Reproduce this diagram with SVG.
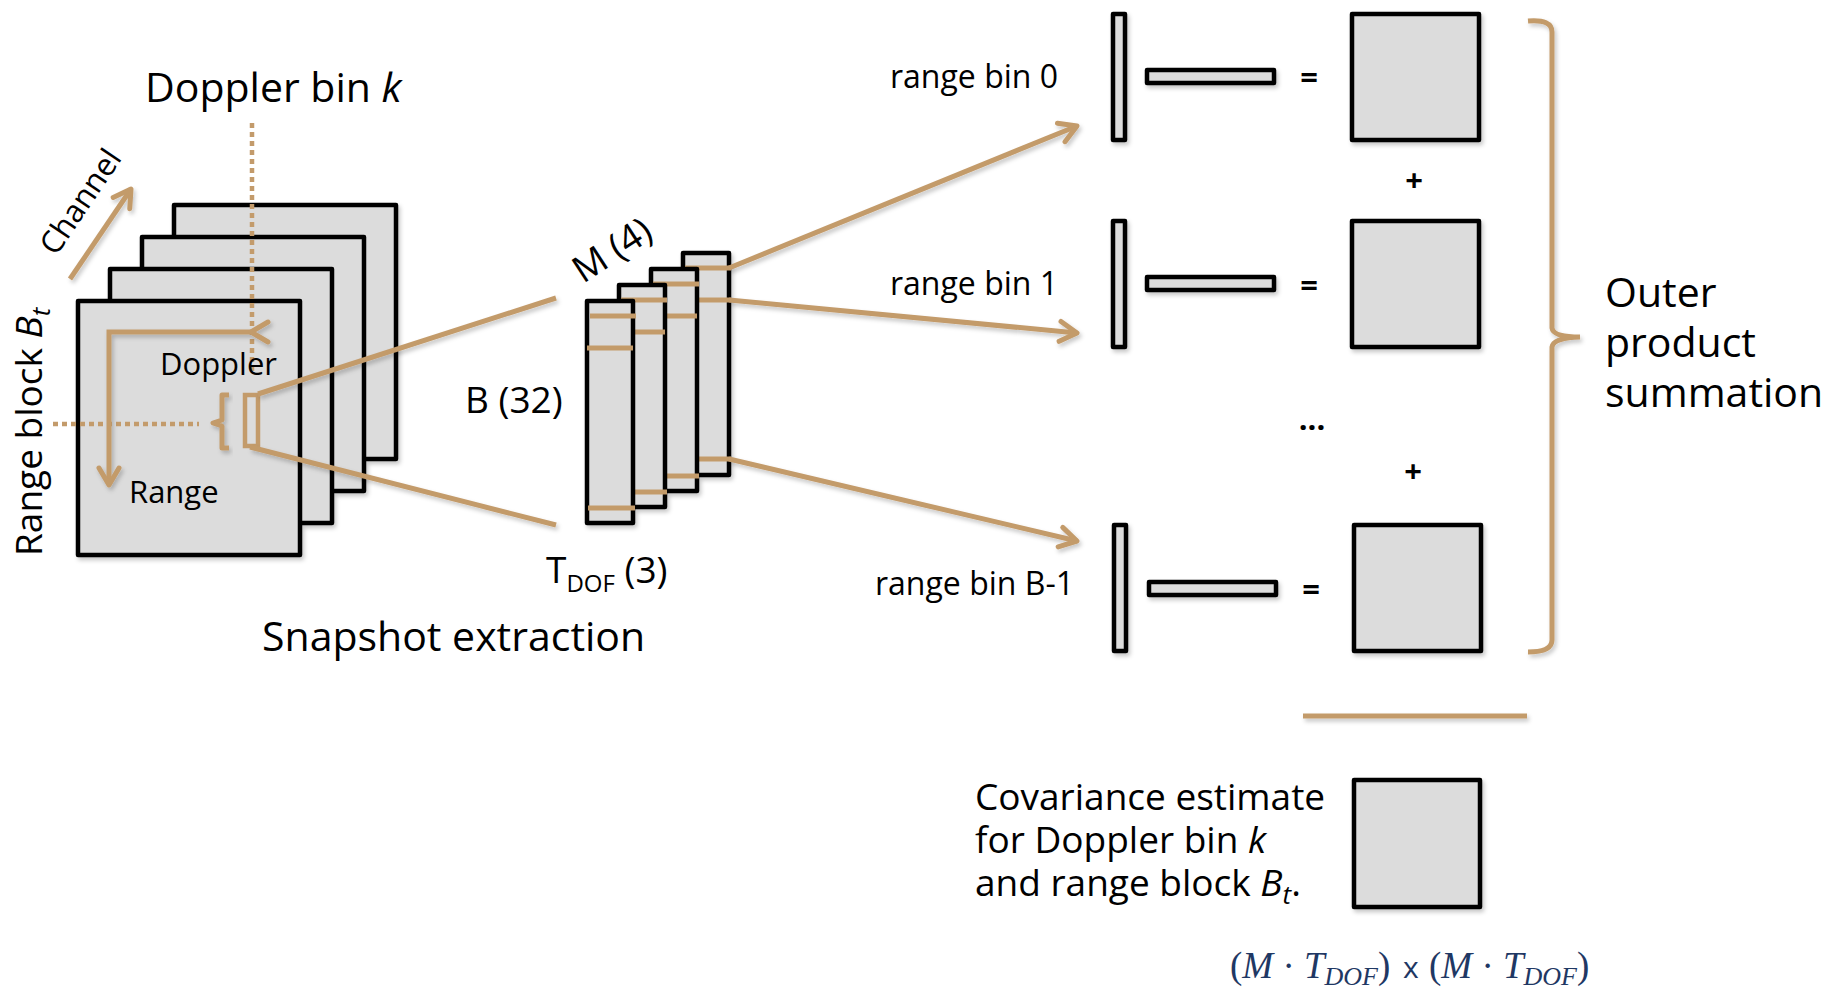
<svg xmlns="http://www.w3.org/2000/svg" width="1837" height="992" viewBox="0 0 1837 992">
<defs>
<style>
.txt{font-family:'Open Sans','Liberation Sans',sans-serif;fill:#000}
.box{fill:#dcdcdc;stroke:#000;stroke-width:4.5;stroke-linejoin:round}
.tan{fill:none;stroke:#c39b6b;stroke-width:5;stroke-linecap:butt}
.dot{fill:none;stroke:#c39b6b;stroke-width:4.5;stroke-dasharray:5 4}
.op{font-family:'Open Sans','Liberation Sans',sans-serif;font-weight:bold;font-size:31px;text-anchor:middle}
.math{font-family:'Liberation Serif','DejaVu Serif',serif;fill:#1f3864}
</style>
<filter id="sh" x="-20%" y="-20%" width="140%" height="140%"><feDropShadow dx="2" dy="3" stdDeviation="2" flood-color="#000" flood-opacity="0.22"/></filter>
<marker id="ah" markerUnits="userSpaceOnUse" markerWidth="40" markerHeight="40" viewBox="-25 -20 40 40" refX="0" refY="0" orient="auto" overflow="visible">
<path d="M-17,-10 L0,0 L-17,10" fill="none" stroke="#c39b6b" stroke-width="5" stroke-linecap="round" stroke-linejoin="round"/>
</marker>
</defs>
<rect width="1837" height="992" fill="#fff"/>

<!-- Data cube layers -->
<g id="cube" filter="url(#sh)">
<rect class="box" x="174" y="205" width="222" height="254"/>
<rect class="box" x="142" y="237" width="222" height="254"/>
<rect class="box" x="110" y="269" width="222" height="254"/>
<rect class="box" x="78" y="301" width="222" height="254"/>
</g>
<g id="cube-marks">
<line class="dot" x1="252" y1="123" x2="252" y2="374"/>
<line class="dot" x1="53" y1="424" x2="199" y2="424"/>
<path class="tan" filter="url(#sh)" d="M229,395 L222,395 L222,420 L213,423 L222,426 L222,448 L229,448" stroke-linejoin="round"/>
<rect x="245" y="395" width="13" height="51" fill="none" stroke="#c39b6b" stroke-width="4.5"/>
</g>
<g id="axis-arrows" filter="url(#sh)">
<path class="tan" d="M251,332 L109,332 L109,485" marker-start="url(#ah)" marker-end="url(#ah)"/>
<line class="tan" x1="70" y1="279" x2="131" y2="189" marker-end="url(#ah)"/>
</g>

<text class="txt" x="145" y="102" font-size="41">Doppler bin <tspan font-style="italic">k</tspan></text>
<text class="txt" font-size="31" transform="translate(56,257) rotate(-56)">Channel</text>
<text class="txt" font-size="37" transform="translate(42,556) rotate(-90)">Range block <tspan font-style="italic">B</tspan><tspan font-style="italic" font-size="26" dy="8">t</tspan></text>
<text class="txt" x="160" y="375" font-size="31">Doppler</text>
<text class="txt" x="129" y="503" font-size="31">Range</text>

<!-- Snapshot strips -->
<g id="snapshot">
<g filter="url(#sh)">
<rect class="box" x="683" y="253" width="46" height="222"/>
<line class="tan" x1="685" y1="268" x2="731" y2="268"/>
<line class="tan" x1="685" y1="300" x2="731" y2="300"/>
<line class="tan" x1="685" y1="459" x2="731" y2="459"/>
<rect class="box" x="651" y="269" width="46" height="222"/>
<line class="tan" x1="653" y1="284" x2="699" y2="284"/>
<line class="tan" x1="653" y1="316" x2="697" y2="316"/>
<line class="tan" x1="653" y1="476" x2="699" y2="476"/>
<rect class="box" x="619" y="285" width="46" height="222"/>
<line class="tan" x1="621" y1="300" x2="667" y2="300"/>
<line class="tan" x1="621" y1="332" x2="665" y2="332"/>
<line class="tan" x1="621" y1="492" x2="667" y2="492"/>
<rect class="box" x="587" y="301" width="46" height="222"/>
<line class="tan" x1="590" y1="316" x2="636" y2="316"/>
<line class="tan" x1="587" y1="348" x2="633" y2="348"/>
<line class="tan" x1="588" y1="508" x2="635" y2="508"/>
</g>
</g>
<text class="txt" font-size="37" transform="translate(583,284) rotate(-33)">M (4)</text>
<text class="txt" x="465" y="413" font-size="37">B (32)</text>
<text class="txt" x="546" y="583" font-size="37">T<tspan font-size="24" dy="9">DOF</tspan><tspan dy="-9"> (3)</tspan></text>
<text class="txt" x="262" y="651" font-size="41">Snapshot extraction</text>

<!-- Connectors -->
<g id="connectors" filter="url(#sh)">
<line class="tan" x1="258" y1="394" x2="556" y2="298"/>
<line class="tan" x1="250" y1="447" x2="556" y2="525"/>
<line class="tan" x1="729" y1="268" x2="1077" y2="126" marker-end="url(#ah)"/>
<line class="tan" x1="729" y1="300" x2="1077" y2="333" marker-end="url(#ah)"/>
<line class="tan" x1="729" y1="459" x2="1077" y2="541" marker-end="url(#ah)"/>
<path class="tan" d="M1528,21 Q1552,19 1552,32 L1552,328 Q1553,337 1580,337 Q1553,338 1552,347 L1552,640 Q1552,652 1528,652"/>
<line class="tan" x1="1303" y1="716" x2="1527" y2="716"/>
</g>

<!-- Range bin 0 -->
<g id="bin0">
<g filter="url(#sh)">
<rect class="box" x="1113" y="14" width="12" height="126"/>
<rect class="box" x="1147" y="70" width="127" height="13"/>
<rect class="box" x="1352" y="14" width="127" height="126"/>
</g>
<text class="txt" x="890" y="88" font-size="32">range bin 0</text>
<text class="op" x="1309" y="88">=</text>
</g>
<text class="op" x="1414" y="191">+</text>

<!-- Range bin 1 -->
<g id="bin1">
<g filter="url(#sh)">
<rect class="box" x="1113" y="221" width="12" height="126"/>
<rect class="box" x="1147" y="277" width="127" height="13"/>
<rect class="box" x="1352" y="221" width="127" height="126"/>
</g>
<text class="txt" x="890" y="295" font-size="32">range bin 1</text>
<text class="op" x="1309" y="296">=</text>
</g>
<text class="op" x="1312" y="430" font-size="34">...</text>
<text class="op" x="1413" y="482">+</text>

<!-- Range bin B-1 -->
<g id="binB">
<g filter="url(#sh)">
<rect class="box" x="1114" y="525" width="12" height="126"/>
<rect class="box" x="1149" y="582" width="127" height="13"/>
<rect class="box" x="1354" y="525" width="127" height="126"/>
</g>
<text class="txt" x="875" y="595" font-size="32">range bin B-1</text>
<text class="op" x="1311" y="600">=</text>
</g>

<g id="outer-label">
<text class="txt" x="1605" y="307" font-size="41">Outer</text>
<text class="txt" x="1605" y="357" font-size="41">product</text>
<text class="txt" x="1605" y="407" font-size="41">summation</text>
</g>

<!-- Covariance -->
<g id="covariance">
<rect class="box" x="1354" y="780" width="126" height="127" filter="url(#sh)"/>
<text class="txt" x="975" y="810" font-size="37">Covariance estimate</text>
<text class="txt" x="975" y="853" font-size="37">for Doppler bin <tspan font-style="italic">k</tspan></text>
<text class="txt" x="975" y="896" font-size="37">and range block <tspan font-style="italic">B</tspan><tspan font-style="italic" font-size="26" dy="8">t</tspan><tspan dy="-8">.</tspan></text>
</g>
<text class="math" font-size="37" y="978"><tspan x="1230">(</tspan><tspan font-style="italic">M</tspan><tspan> · </tspan><tspan font-style="italic">T</tspan><tspan font-style="italic" font-size="26" dy="7">DOF</tspan><tspan dy="-7">)</tspan><tspan x="1403" font-family="'Open Sans',sans-serif" font-size="30">x</tspan><tspan x="1429">(</tspan><tspan font-style="italic">M</tspan><tspan> · </tspan><tspan font-style="italic">T</tspan><tspan font-style="italic" font-size="26" dy="7">DOF</tspan><tspan dy="-7">)</tspan></text>
</svg>
